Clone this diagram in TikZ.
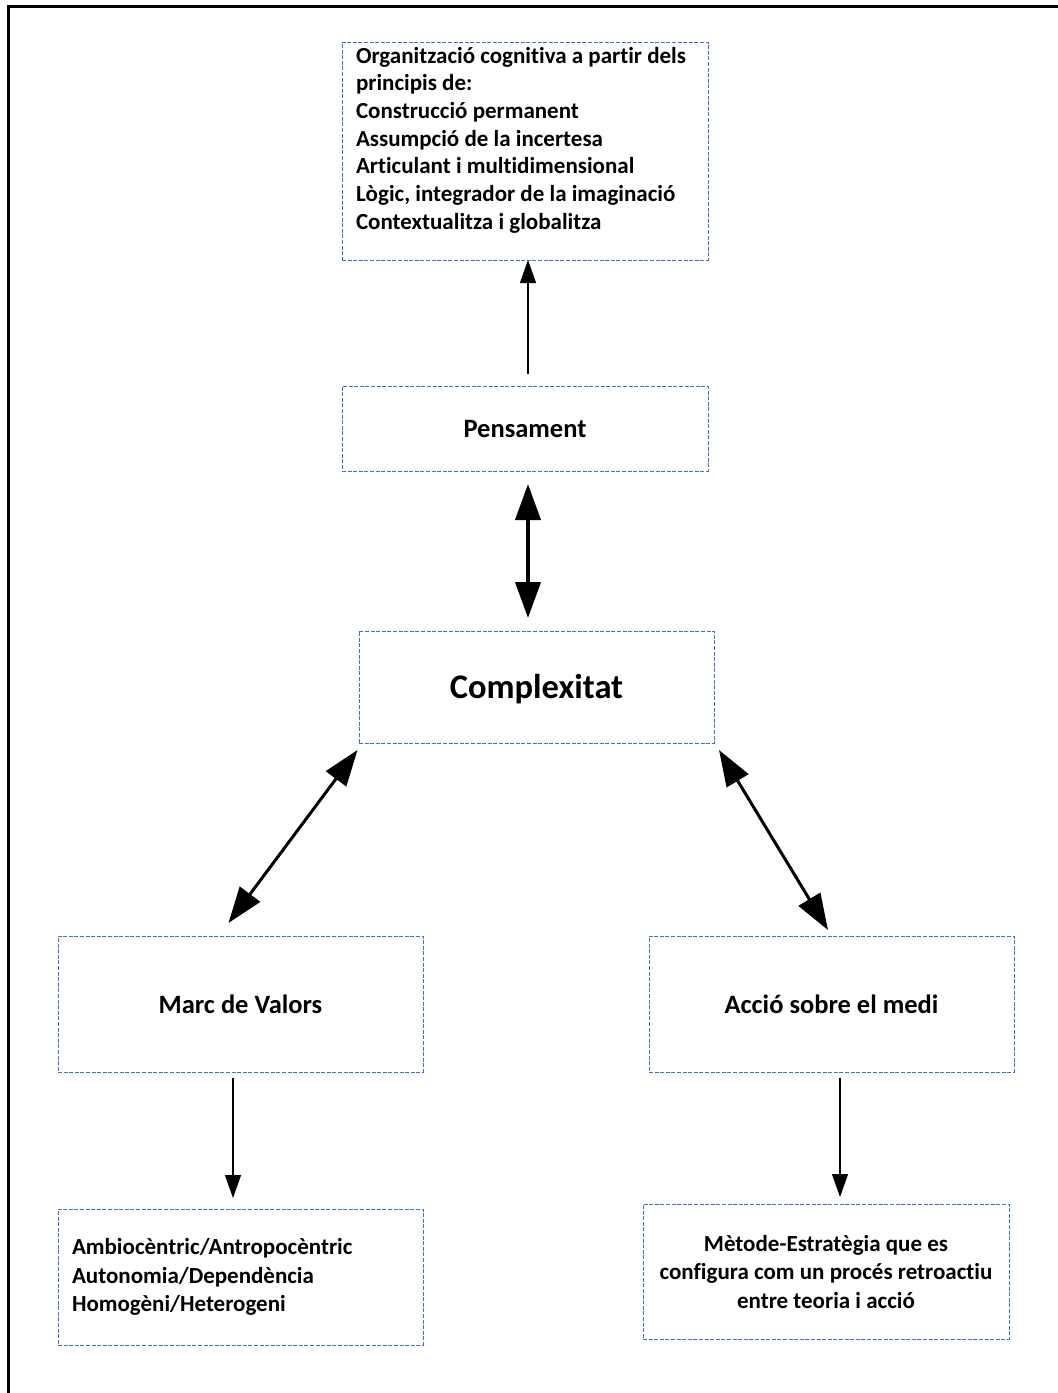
\documentclass[tikz,border=0pt]{standalone}
\usepackage{fontspec}
\setmainfont{Carlito}[Ligatures={NoCommon,NoRequired,NoContextual}]
\usetikzlibrary{arrows.meta,positioning}
\definecolor{boxblue}{HTML}{4472C4}

\begin{document}
\begin{tikzpicture}[x=1pt, y=-1pt,
  box/.style={draw=boxblue, line width=0.9pt, dash pattern=on 4pt off 1.6pt, inner sep=0pt, outer sep=0pt, minimum width=366pt, font=\bfseries},
  midtext/.style={font=\fontsize{26.5}{32}\selectfont\bfseries, text height=25.2pt, text depth=7.1pt},
  smalltext/.style={font=\fontsize{23}{28.5}\selectfont\bfseries},
  arr/.style={-{Triangle[length=23pt, width=16pt]}, line width=1.3pt},
  dbl/.style={{Triangle[length=36pt, width=25pt]}-{Triangle[length=36pt, width=25pt]}, line width=3pt}
]
\useasboundingbox (0,0) rectangle (1058,1393);
% frame
\draw[line width=2.7pt] (8.7,1393) -- (8.7,6.2) -- (1058,6.2);

\node[box, minimum height=218pt] (org) at (525,151) {\parbox[c][208pt][t]{338pt}{\fontsize{23}{27.7}\selectfont
  Organització cognitiva a partir dels\\
  principis de:\\
  Construcció permanent\\
  Assumpció de la incertesa\\
  Articulant i multidimensional\\
  Lògic, integrador de la imaginació\\
  Contextualitza i globalitza}};
\node[box, midtext, minimum height=85pt] (pens) at (525,428.5) {Pensament};
\node[box, minimum width=355pt, minimum height=112pt, font=\fontsize{34.5}{41}\selectfont\bfseries, text height=32.8pt, text depth=9.3pt] (cx) at (536.5,687) {Complexitat};
\node[box, midtext, minimum width=365pt, minimum height=136pt] (mv) at (240.5,1004) {Marc de Valors};
\node[box, midtext, minimum width=365pt, minimum height=136pt] (acc) at (831.5,1004) {Acció sobre el medi};
\node[box, smalltext, minimum width=365pt, minimum height=136pt, text width=337pt, align=left] (amb) at (240.5,1277) {Ambiocèntric/Antropocèntric\\ Autonomia/Dependència\\ Homogèni/Heterogeni};
\node[box, smalltext, minimum height=135pt, align=center] (met) at (826,1271.5) {Mètode-Estratègia que es\\ configura com un procés retroactiu\\ entre teoria i acció};

% connectors
\draw[arr] ([xshift=3pt, yshift=12pt]pens.north) -- ([xshift=3pt]org.south);
\draw[dbl, line width=4pt] ([xshift=3pt, yshift=-13pt]pens.south) -- ([xshift=-8.5pt, yshift=13pt]cx.north);
\draw[dbl] ([xshift=-1.5pt, yshift=-7pt]cx.south west) -- ([xshift=-12pt, yshift=13pt]mv.north);
\draw[dbl] ([xshift=5pt, yshift=-7pt]cx.south east) -- ([xshift=-3.5pt, yshift=6pt]acc.north);
\draw[arr] ([xshift=-7.5pt, yshift=-6pt]mv.south) -- ([xshift=-7.5pt, yshift=11pt]amb.north);
\draw[arr] ([xshift=8.5pt, yshift=-6pt]acc.south) -- ([xshift=14pt, yshift=7pt]met.north);
\end{tikzpicture}
\end{document}
